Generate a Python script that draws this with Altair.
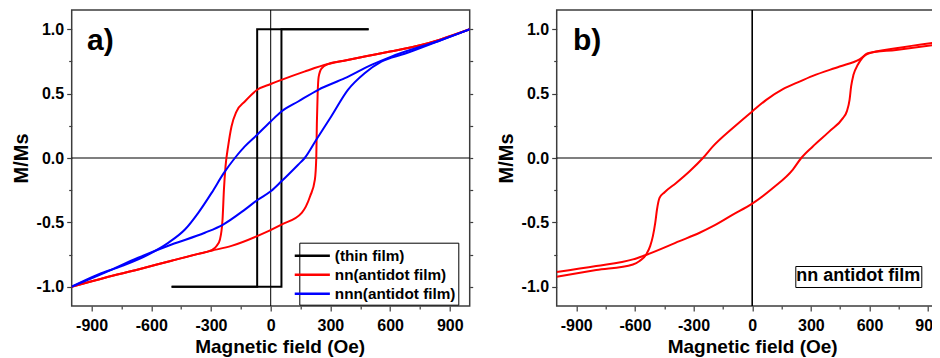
import altair as alt
import pandas as pd

FONT = "Liberation Sans"

# ---------------- data: panel a ----------------
thin_up_x = [-498, 54, 54, 492]
thin_up_y = [-1.0, -1.0, 1.0, 1.0]
thin_dn_x = [492, -68, -68, -498]
thin_dn_y = [1.0, 1.0, -1.0, -1.0]

nn_dn_x = [1000, 850, 756, 600, 478, 380, 288, 169, 54, 0, -68, -130, -172, -197, -214, -227,
           -235, -242, -255, -270, -297, -364, -498, -666, -833, -1000]
nn_dn_y = [1.0, 0.92, 0.878, 0.827, 0.79, 0.76, 0.73, 0.671, 0.607, 0.575, 0.53, 0.439, 0.361,
           0.245, 0.09, -0.065, -0.246, -0.478, -0.633, -0.68, -0.716, -0.745, -0.798, -0.866,
           -0.93, -1.0]
nn_up_x = [-1000, -833, -666, -498, -364, -297, -197, -68, 54, 156, 198, 222, 229, 232, 236, 241,
           255, 288, 380, 478, 600, 756, 850, 1000]
nn_up_y = [-1.0, -0.93, -0.866, -0.798, -0.745, -0.72, -0.683, -0.607, -0.517, -0.426, -0.297,
           -0.168, 0.0, 0.271, 0.504, 0.63, 0.695, 0.73, 0.76, 0.79, 0.827, 0.878, 0.92, 1.0]

nnn_dn_x = [1000, 857, 606, 506, 373, 239, 138, 54, 0, -68, -130, -180, -235, -297, -364, -431,
            -515, -615, -749, -866, -1000]
nnn_dn_y = [1.0, 0.917, 0.788, 0.723, 0.62, 0.53, 0.439, 0.361, 0.284, 0.181, 0.09, 0.0, -0.116,
            -0.271, -0.426, -0.556, -0.659, -0.75, -0.84, -0.905, -1.0]
nnn_up_x = [-1000, -833, -666, -498, -331, -239, -130, -68, 0, 54, 138, 171, 229, 304, 388, 472,
            556, 673, 857, 1000]
nnn_up_y = [-1.0, -0.891, -0.775, -0.672, -0.581, -0.517, -0.401, -0.328, -0.259, -0.181, -0.052,
            0.0, 0.142, 0.323, 0.53, 0.659, 0.749, 0.81, 0.917, 1.0]

series_a = ["(thin film)", "nn(antidot film)", "nnn(antidot film)"]
colors_a = ["#000000", "#ff0000", "#0000ff"]

# ---------------- data: panel b ----------------
b_dn_x = [1000, 958, 736, 591, 549, 447, 310, 242, 157, 72, 0, -99, -201, -252, -320, -389, -448,
          -474, -487, -496, -508, -522, -542, -576, -610, -798, -1000]
b_dn_y = [0.91, 0.902, 0.853, 0.809, 0.767, 0.711, 0.638, 0.594, 0.535, 0.452, 0.362, 0.233, 0.09,
          0.0, -0.103, -0.194, -0.266, -0.31, -0.40, -0.504, -0.607, -0.685, -0.749, -0.80, -0.827,
          -0.871, -0.922]
b_up_x = [-1000, -798, -610, -559, -372, -269, -201, -99, 0, 106, 208, 251, 310, 395, 464, 484, 498,
          506, 518, 540, 566, 591, 736, 958, 1000]
b_up_y = [-0.886, -0.84, -0.788, -0.762, -0.646, -0.581, -0.53, -0.44, -0.354, -0.233, -0.09, 0.0,
          0.09, 0.207, 0.31, 0.362, 0.452, 0.556, 0.646, 0.724, 0.783, 0.814, 0.84, 0.884, 0.893]
series_b = ["nn antidot film"]

# ticks / labels
X_MAJOR = [-900, -600, -300, 0, 300, 600, 900]
X_MINOR = [-750, -450, -150, 150, 450, 750]
Y_MAJOR = [-1.0, -0.5, 0.0, 0.5, 1.0]
Y_MINOR = [-0.75, -0.25, 0.25, 0.75]
Y_RIGHT = [-1.0, -0.75, -0.5, -0.25, 0.0, 0.25, 0.5, 0.75, 1.0]
X_DOMAIN = [-1000, 1000]
Y_DOMAIN = [-1.15, 1.15]
panel_labels = ["a)", "b)"]
panel_label_x = [-923, -917]
panel_label_y = [0.84, 0.84]


def branch(series, name, xs, ys):
    return pd.DataFrame({"x": xs, "y": ys, "series": series, "branch": name,
                         "i": list(range(len(xs)))})


df_thin = pd.concat([branch(series_a[0], "t_up", thin_up_x, thin_up_y),
                     branch(series_a[0], "t_dn", thin_dn_x, thin_dn_y)])
df_curves = pd.concat([branch(series_a[1], "nn_dn", nn_dn_x, nn_dn_y),
                       branch(series_a[1], "nn_up", nn_up_x, nn_up_y),
                       branch(series_a[2], "nnn_dn", nnn_dn_x, nnn_dn_y),
                       branch(series_a[2], "nnn_up", nnn_up_x, nnn_up_y)])
df_b = pd.concat([branch(series_b[0], "b_dn", b_dn_x, b_dn_y),
                  branch(series_b[0], "b_up", b_up_x, b_up_y)])
zero_df = pd.DataFrame({"v": [0]})

ysc = alt.Scale(domain=Y_DOMAIN, nice=False, zero=False)
xsc = alt.Scale(domain=X_DOMAIN, nice=False, zero=False)

XLAB = "replace(format(datum.value, 'd'), '\u2212', '-')"
YLAB = "replace(format(datum.value, '.1f'), '\u2212', '-')"


def x_major(title_x=None):
    kw = dict(orient="bottom", values=X_MAJOR, tickSize=5, labelPadding=6,
              title="Magnetic field (Oe)", titlePadding=4, labelExpr=XLAB,
              labelFlush=False, labelOverlap=False)
    if title_x is not None:
        kw["titleX"] = title_x
    return alt.Axis(**kw)


y_major = alt.Axis(orient="left", values=Y_MAJOR, tickSize=5, labelPadding=3, title="M/Ms",
                   titlePadding=5, titleFontSize=20, labelExpr=YLAB, labelOverlap=False)
x_minor = alt.Axis(orient="bottom", values=X_MINOR, tickSize=3, labels=False, title=None)
y_minor = alt.Axis(orient="left", values=Y_MINOR, tickSize=3, labels=False, title=None)
y_right = alt.Axis(orient="right", values=Y_RIGHT, tickSize=3, labels=False, title=None)


def panel(curve_layers, label_idx, vline_w, width):
    vrule = alt.Chart(zero_df).mark_rule(color="black", strokeWidth=vline_w).encode(
        x=alt.X("v:Q", scale=xsc, axis=x_minor))
    hrule = alt.Chart(zero_df).mark_rule(color="black", strokeWidth=1.2).encode(
        y=alt.Y("v:Q", scale=ysc, axis=y_minor))
    lab = pd.DataFrame({"t": [panel_labels[label_idx]], "x": [panel_label_x[label_idx]],
                        "y": [panel_label_y[label_idx]]})
    text = alt.Chart(lab).mark_text(align="left", baseline="alphabetic", font=FONT, fontSize=30,
                                    fontWeight="bold", color="black").encode(
        x=alt.X("x:Q", scale=xsc, axis=None),
        y=alt.Y("y:Q", scale=ysc, axis=y_right),
        text="t:N")
    return alt.layer(vrule, hrule, *curve_layers, text).resolve_axis(
        x="independent", y="independent").properties(width=width, height=296)


# a horizontal stroke 3.8x as long as the symbol's nominal size, so the rows stay compact
LEG_SYMBOL = "M-1.9,0H1.9"
legend_a = alt.Legend(orient="none", legendX=227.6, legendY=232.7, title=None,
                      symbolType=LEG_SYMBOL, symbolSize=342, symbolStrokeWidth=2.5,
                      labelFont=FONT, labelFontSize=15.3, labelFontWeight="bold", labelColor="black",
                      labelLimit=400, strokeColor="black", fillColor="white", padding=2.5,
                      rowPadding=0, labelOffset=12, symbolOffset=0)
color_a = alt.Color("series:N", scale=alt.Scale(domain=series_a, range=colors_a), legend=legend_a)

thin_layer = alt.Chart(df_thin).mark_line(strokeWidth=2, clip=True).encode(
    x=alt.X("x:Q", scale=xsc, axis=x_major(208)),
    y=alt.Y("y:Q", scale=ysc, axis=y_major),
    color=color_a, detail="branch:N", order="i:Q")
curve_layer = alt.Chart(df_curves).mark_line(strokeWidth=2, interpolate="monotone", clip=True).encode(
    x=alt.X("x:Q", scale=xsc, axis=None),
    y=alt.Y("y:Q", scale=ysc, axis=None),
    color=color_a, detail="branch:N", order="i:Q")

# panel b: the boxed caption is the legend title; entries are made invisible
legend_b = alt.Legend(orient="none", legendX=238.6, legendY=256, title=series_b[0],
                      titleFont=FONT, titleFontSize=18, titleFontWeight="bold", titleColor="black",
                      titlePadding=0, titleLimit=400,
                      symbolType="stroke", symbolSize=0, symbolStrokeWidth=0, symbolOpacity=0,
                      labelExpr="''", labelFontSize=1, labelOffset=0,
                      strokeColor="black", fillColor="white", padding=1, symbolOffset=0)
b_layer = alt.Chart(df_b).mark_line(strokeWidth=2, interpolate="monotone", clip=True).encode(
    x=alt.X("x:Q", scale=xsc, axis=x_major()),
    y=alt.Y("y:Q", scale=ysc, axis=y_major),
    color=alt.Color("series:N", scale=alt.Scale(domain=series_b, range=["#ff0000"]), legend=legend_b),
    detail="branch:N", order="i:Q")

pa = panel([thin_layer, curve_layer], 0, 1.0, 398)
pb = panel([b_layer], 1, 1.6, 391)

# fixed-size canvas (924 x 350): the right part of panel b is cut at the page edge,
# as in the reference figure
chart = alt.hconcat(pa, pb, spacing=87, bounds="flush").resolve_scale(
    color="independent").resolve_legend(color="independent").properties(
    autosize=alt.AutoSizeParams(type="none"),
    padding={"left": 63.7, "top": 2, "right": 860.3, "bottom": 348}, background="white"
).configure_view(stroke="#3c3c3c", strokeWidth=1.5).configure_axis(
    labelFont=FONT, labelFontSize=16, labelFontWeight="bold", labelColor="black",
    titleFont=FONT, titleFontSize=19, titleFontWeight="bold", titleColor="black",
    tickColor="#3c3c3c", tickWidth=1.2, grid=False, domain=False)

chart.save("out.html", embed_options={"renderer": "svg", "actions": False})
